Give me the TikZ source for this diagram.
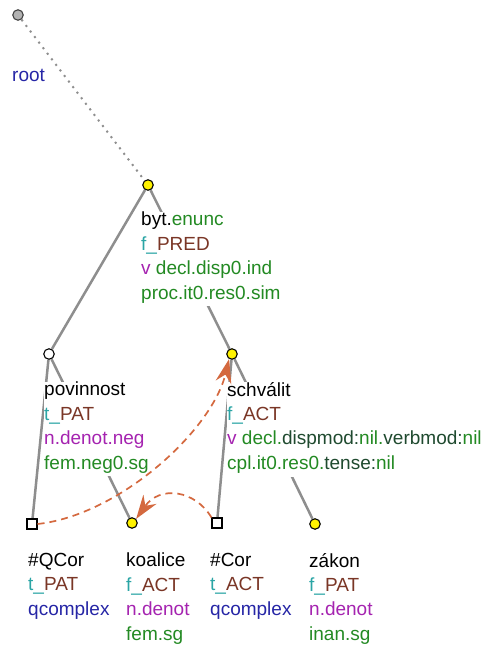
\documentclass[tikz,border=0pt]{standalone}
\usepackage{fontspec}
\setmainfont{Liberation Sans}
\usepackage{tikz}
\pgfdeclarelayer{background}
\pgfdeclarelayer{main}
\pgfsetlayers{background,main}
\usetikzlibrary{arrows.meta, positioning}

\definecolor{tfa}{HTML}{2AA5A5}
\definecolor{functor}{HTML}{7A3626}
\definecolor{sempos}{HTML}{A523B0}
\definecolor{gram}{HTML}{238A23}
\definecolor{gramkey}{HTML}{1F4A2F}
\definecolor{ntype}{HTML}{2626A6}
\definecolor{coref}{HTML}{D4693F}
\definecolor{edgegray}{HTML}{8E8E8E}

\newcommand{\tfun}[2]{\textcolor{tfa}{#1\_}\textcolor{functor}{#2}}
\newcommand{\gr}[1]{\textcolor{gram}{#1}}
\newcommand{\gk}[1]{\textcolor{gramkey}{#1}}

\begin{document}
\begin{tikzpicture}[
    x=1pt, y=-1pt,
    font=\fontsize{19}{24.4}\selectfont,
    tnode/.style={circle, draw=black, line width=1.1pt, fill=yellow,
        minimum size=10.5pt, inner sep=0pt},
    hollow/.style={tnode, fill=white},
    rootnode/.style={tnode, fill=black!30, draw=black!75},
    qnode/.style={rectangle, draw=black, line width=1.1pt, fill=white,
        minimum size=10pt, inner sep=0pt},
    lbl/.style={anchor=north west, align=left, inner sep=0pt, fill=white,
        execute at begin node=\strut},
    edge/.style={line width=2.5pt, draw=edgegray},
    rootedge/.style={line width=2pt, draw=edgegray, dash pattern=on 2pt off 5pt},
    corefarrow/.style={-{Stealth[length=24pt, width=16pt, inset=8pt, fill=coref]},
        line width=1.7pt, draw=coref, dash pattern=on 7pt off 5pt}
]
\useasboundingbox (0,0) rectangle (487,645);

% Tree nodes
\node[rootnode] (root) at (18,15) {};
\node[tnode] (byt) at (148,185) {};
\node[hollow] (povinnost) at (49,354) {};
\node[tnode] (schvalit) at (232,354) {};
\node[qnode] (qcor) at (32,524) {};
\node[tnode] (koalice) at (132,523) {};
\node[qnode] (cor) at (217,523) {};
\node[tnode] (zakon) at (315,524) {};

% Labels
\node[lbl] (root lbl) at (12,64) {\textcolor{ntype}{root}};
\node[lbl] (byt lbl) at (141,212) {byt.\gr{enunc}\\
    \tfun{f}{PRED}\\
    \textcolor{sempos}{v} \gr{decl.disp0.ind}\\
    \gr{proc.it0.res0.sim}};
\node[lbl] (povinnost lbl) at (44,382) {povinnost\\
    \tfun{t}{PAT}\\
    \textcolor{sempos}{n.denot.neg}\\
    \gr{fem.neg0.sg}};
\node[lbl] (schvalit lbl) at (227,382) {schválit\\
    \tfun{f}{ACT}\\
    \textcolor{sempos}{v} \gr{decl.}\gk{dispmod:}\gr{nil.}\gk{verbmod:}\gr{nil}\\
    \gr{cpl.it0.res0.}\gk{tense:}\gr{nil}};
\node[lbl] (qcor lbl) at (28,553) {\#QCor\\
    \tfun{t}{PAT}\\
    \textcolor{ntype}{qcomplex}};
\node[lbl] (koalice lbl) at (126,553) {koalice\\
    \tfun{f}{ACT}\\
    \textcolor{sempos}{n.denot}\\
    \gr{fem.sg}};
\node[lbl] (cor lbl) at (210,553) {\#Cor\\
    \tfun{t}{ACT}\\
    \textcolor{ntype}{qcomplex}};
\node[lbl] (zakon lbl) at (309,553) {zákon\\
    \tfun{f}{PAT}\\
    \textcolor{sempos}{n.denot}\\
    \gr{inan.sg}};

% Edges
\begin{pgfonlayer}{background}
\draw[rootedge] (root) -- (byt);
\draw[edge] (byt) -- (povinnost);
\draw[edge] (byt) -- (schvalit);
\draw[edge] (povinnost) -- (qcor);
\draw[edge] (povinnost) -- (koalice);
\draw[edge] (schvalit) -- (cor);
\draw[edge] (schvalit) -- (zakon);
\end{pgfonlayer}

% Coreference arrows
\draw[corefarrow] (qcor.east) .. controls (120,515) and (212,430) .. (schvalit.240);
\draw[corefarrow] (cor.north west) .. controls (195,490) and (160,485) .. (koalice.45);

\end{tikzpicture}
\end{document}
